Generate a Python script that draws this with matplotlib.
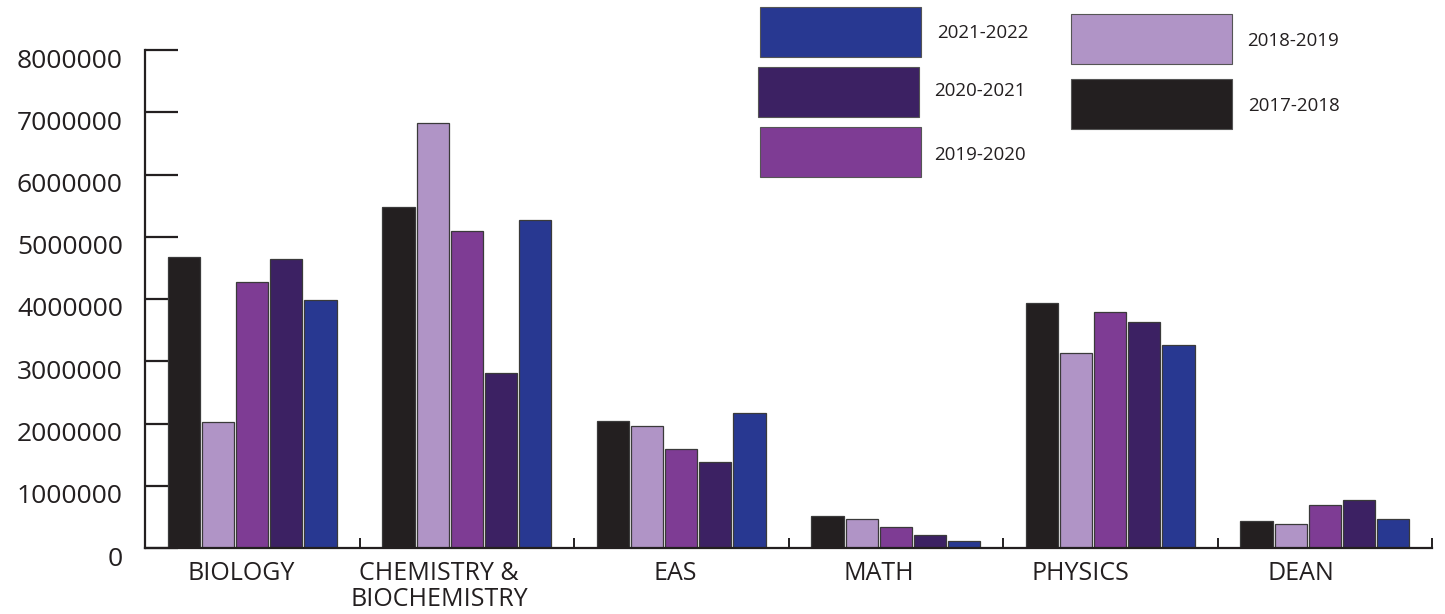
import numpy as np
import matplotlib
matplotlib.use("Agg")
import matplotlib.pyplot as plt
from matplotlib.patches import Rectangle
from matplotlib.transforms import ScaledTranslation

plt.rcParams['font.family'] = ['Open Sans', 'DejaVu Sans']

# data
departments = ["BIOLOGY", "CHEMISTRY &\nBIOCHEMISTRY", "EAS", "MATH", "PHYSICS", "DEAN"]
years = ["2017-2018", "2018-2019", "2019-2020", "2020-2021", "2021-2022"]
y2017 = [4680000, 5470000, 2040000, 510000, 3940000, 440000]
y2018 = [2030000, 6820000, 1960000, 470000, 3140000, 390000]
y2019 = [4280000, 5100000, 1590000, 340000, 3790000, 690000]
y2020 = [4650000, 2810000, 1380000, 210000, 3630000, 770000]
y2021 = [3990000, 5270000, 2170000, 110000, 3260000, 460000]
colors = ["#231f20", "#b094c6", "#7e3c94", "#3c2163", "#283891"]
yticks = [0, 1000000, 2000000, 3000000, 4000000, 5000000, 6000000, 7000000, 8000000]

fig = plt.figure(figsize=(14.45, 6.14), dpi=100)
ax = fig.add_axes([145/1445, 66/614, (1432-145)/1445, (548-50)/614])

x = np.arange(len(departments))
step = 0.159
for i, vals in enumerate([y2017, y2018, y2019, y2020, y2021]):
    ax.bar(x + (i - 2) * step, vals, width=0.150, color=colors[i],
           edgecolor="#3a3a3a", linewidth=0.9, zorder=2)

ax.set_xlim(-0.5, len(departments) - 0.5)
ax.set_ylim(0, 8000000)

for s in ["top", "right"]:
    ax.spines[s].set_visible(False)
for s in ["left", "bottom"]:
    ax.spines[s].set_linewidth(1.6)
    ax.spines[s].set_color("#231f20")
    ax.spines[s].set_zorder(3)

ax.set_yticks(yticks)
ax.set_yticklabels([str(v) for v in yticks])
ax.tick_params(axis="y", direction="in", length=24, width=1.6, color="#231f20",
               pad=16, labelsize=19, labelcolor="#231f20")
off = ScaledTranslation(0, -8/100, fig.dpi_scale_trans)
for lbl in ax.get_yticklabels():
    lbl.set_transform(lbl.get_transform() + off)

# x: boundary ticks inward, names under bars
ax.set_xticks(np.arange(-0.5, len(departments)), minor=True)
ax.tick_params(axis="x", which="minor", direction="in", length=7, width=1.4, color="#231f20")
ax.set_xticks([])
lbl_shift = [-0.05, -0.13, -0.03, -0.08, -0.14, -0.11]
for i, name in enumerate(departments):
    ax.text(x[i] + lbl_shift[i], -0.026, name, transform=ax.get_xaxis_transform(),
            ha="center", va="top", fontsize=18, color="#231f20", linespacing=1.08)

# legend boxes drawn in figure pixels
W, H = 1445, 614
leg = [(760, 7, "2021-2022", 4, 937, 33),
       (758, 67, "2020-2021", 3, 934, 91),
       (760, 127, "2019-2020", 2, 934, 155),
       (1071, 14, "2018-2019", 1, 1247, 41),
       (1071, 79, "2017-2018", 0, 1248, 106)]
for rx, ry, lab, ci, tx, ty in leg:
    fig.patches.append(Rectangle((rx/W, 1 - (ry+50)/H), 161/W, 50/H,
                                 transform=fig.transFigure, facecolor=colors[ci],
                                 edgecolor="#555555", linewidth=0.8))
    fig.text(tx/W, 1 - ty/H, lab, ha="left", va="center", fontsize=13.5, color="#231f20")

fig.savefig("out.png", dpi=100)
